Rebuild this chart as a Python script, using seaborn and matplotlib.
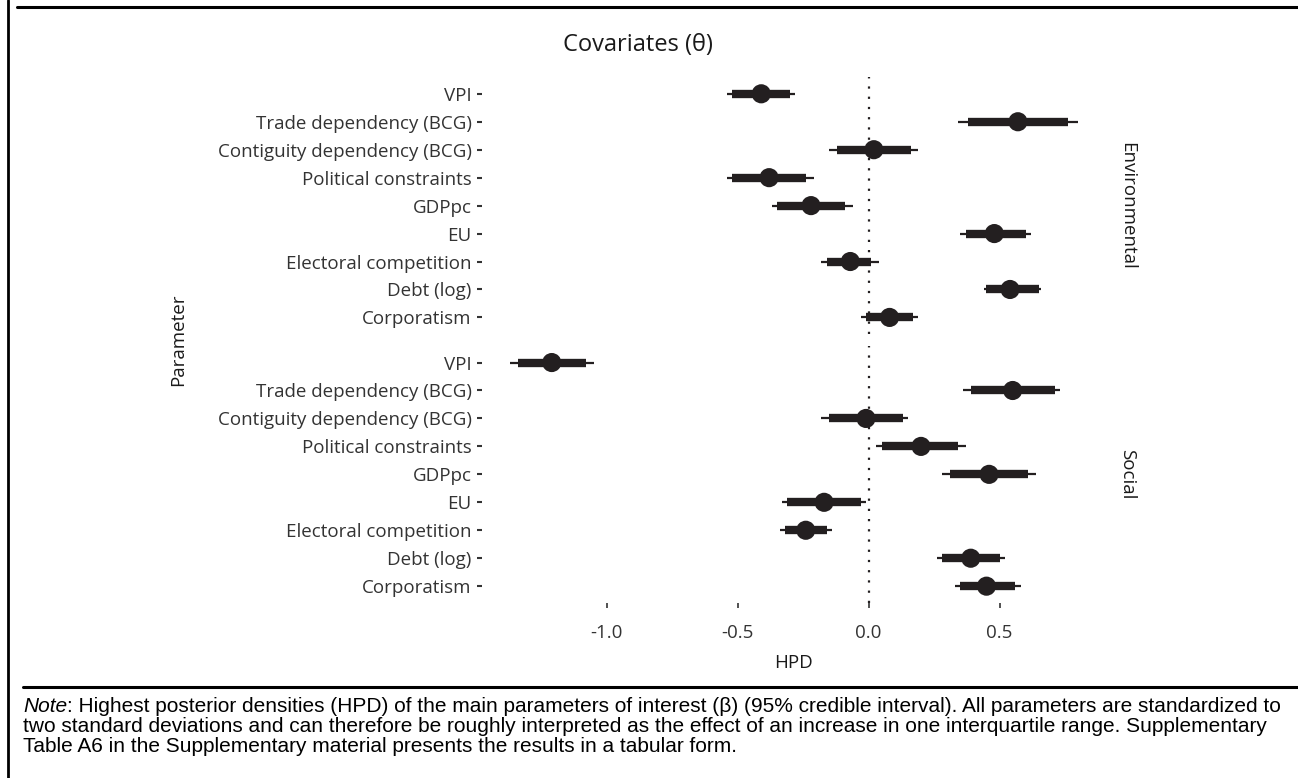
import pandas as pd
import numpy as np
import seaborn as sns
import matplotlib.pyplot as plt
from matplotlib.lines import Line2D

# --- data (HPD, posterior mean + inner / 95% intervals) ---
params = ['VPI', 'Trade dependency (BCG)', 'Contiguity dependency (BCG)',
          'Political constraints', 'GDPpc', 'EU', 'Electoral competition',
          'Debt (log)', 'Corporatism']
groups = ['Environmental', 'Social']

env_mean = [-0.41, 0.57, 0.02, -0.38, -0.22, 0.48, -0.07, 0.54, 0.08]
env_lo95 = [-0.54, 0.34, -0.15, -0.54, -0.37, 0.35, -0.18, 0.44, -0.03]
env_hi95 = [-0.28, 0.80, 0.19, -0.21, -0.06, 0.62, 0.04, 0.66, 0.19]
env_lo_in = [-0.52, 0.38, -0.12, -0.52, -0.35, 0.37, -0.16, 0.45, -0.01]
env_hi_in = [-0.30, 0.76, 0.16, -0.24, -0.09, 0.60, 0.01, 0.65, 0.17]

soc_mean = [-1.21, 0.55, -0.01, 0.20, 0.46, -0.17, -0.24, 0.39, 0.45]
soc_lo95 = [-1.37, 0.36, -0.18, 0.03, 0.28, -0.33, -0.34, 0.26, 0.33]
soc_hi95 = [-1.05, 0.73, 0.15, 0.37, 0.64, -0.01, -0.14, 0.52, 0.58]
soc_lo_in = [-1.34, 0.39, -0.15, 0.05, 0.31, -0.31, -0.32, 0.28, 0.35]
soc_hi_in = [-1.08, 0.71, 0.13, 0.34, 0.61, -0.03, -0.16, 0.50, 0.56]

xticks = [-1.0, -0.5, 0.0, 0.5]
xtick_labels = ['-1.0', '-0.5', '0.0', '0.5']

note_italic = 'Note'
note_line1 = (': Highest posterior densities (HPD) of the main parameters of interest (\u03b2) '
              '(95% credible interval). All parameters are standardized to')
note_line2 = ('two standard deviations and can therefore be roughly interpreted as the effect '
              'of an increase in one interquartile range. Supplementary')
note_line3 = 'Table A6 in the Supplementary material presents the results in a tabular form.'

df = pd.DataFrame({
    'Type': np.repeat(groups, len(params)),
    'Parameter': params * 2,
    'pos': list(range(len(params))) * 2,
    'mean': env_mean + soc_mean,
    'lo': env_lo95 + soc_lo95,
    'hi': env_hi95 + soc_hi95,
    'lo_in': env_lo_in + soc_lo_in,
    'hi_in': env_hi_in + soc_hi_in,
})

sns.set_theme(style='white')
plt.rcParams['font.family'] = ['Open Sans', 'DejaVu Sans']
ink = '#231f20'


def draw_intervals(data, **kws):
    ax = plt.gca()
    ax.axvline(0, color=ink, lw=1.6, ls=(0, (1, 3.6)), zorder=1)
    ax.hlines(data['pos'], data['lo'], data['hi'], color=ink, lw=1.6, zorder=2)
    ax.hlines(data['pos'], data['lo_in'], data['hi_in'], color=ink, lw=6, zorder=3)
    sns.scatterplot(data=data, x='mean', y='pos', color=ink, s=190,
                    edgecolor='none', zorder=4, ax=ax)


g = sns.FacetGrid(df, row='Type', row_order=groups, margin_titles=True,
                  sharex=True, sharey=True, despine=False)
g.map_dataframe(draw_intervals)
g.figure.set_size_inches(12.98, 7.78)
g.figure.subplots_adjust(left=0.371, right=0.852, top=0.901, bottom=0.225, hspace=0.045)

g.set_titles(row_template='{row_name}', size=13.5, color='#1a1a1a')
g.set(xlim=(-1.478, 0.906), ylim=(8.6, -0.6), xticks=xticks, yticks=range(len(params)))
for ax in g.axes.flat:
    ax.set_yticklabels(params)
    ax.set_xticklabels(xtick_labels)
    ax.set_ylabel('')
    ax.set_xlabel('')
    for s in ax.spines.values():
        s.set_visible(False)
    ax.tick_params(axis='y', left=True, length=3.5, width=1.5, pad=3.5,
                   colors='#333333', labelsize=13.5)
    ax.tick_params(axis='x', bottom=True, length=3.5, width=1.2, pad=12,
                   colors='#333333', labelsize=13.5)
    ax.grid(False)
g.axes[0, 0].tick_params(axis='x', bottom=False, labelbottom=False)
g.axes[-1, 0].set_xlabel('HPD', fontsize=13.5, color='#1a1a1a', labelpad=8)

fig = g.figure
fig.text(0.137, 0.563, 'Parameter', rotation=90, ha='center', va='center',
         fontsize=13.5, color='#1a1a1a')
fig.text(563 / 1298, 1 - 45 / 778, 'Covariates (\u03b8)', ha='left', va='center',
         fontsize=17, color='#1a1a1a')

# frame lines of the printed figure box
fig.add_artist(Line2D([8 / 1298, 8 / 1298], [0, 1], transform=fig.transFigure,
                      color='black', lw=2))
fig.add_artist(Line2D([17 / 1298, 1], [1 - 7 / 778, 1 - 7 / 778],
                      transform=fig.transFigure, color='black', lw=2.2))
fig.add_artist(Line2D([23 / 1298, 1], [1 - 687 / 778, 1 - 687 / 778],
                      transform=fig.transFigure, color='black', lw=2.2))

# note under the chart
note_kw = dict(fontsize=15, color='black', family=['Liberation Sans', 'DejaVu Sans'])
t1 = fig.text(23 / 1298, 1 - 707 / 778, note_italic, ha='left', va='center',
              style='italic', **note_kw)
g.axes[-1, 0].annotate(note_line1, xy=(1, 0), xycoords=t1, ha='left', va='bottom',
                       annotation_clip=False, **note_kw)
fig.text(23 / 1298, 1 - 727 / 778, note_line2, ha='left', va='center', **note_kw)
fig.text(23 / 1298, 1 - 747 / 778, note_line3, ha='left', va='center', **note_kw)

fig.savefig('out.png', dpi=100)
